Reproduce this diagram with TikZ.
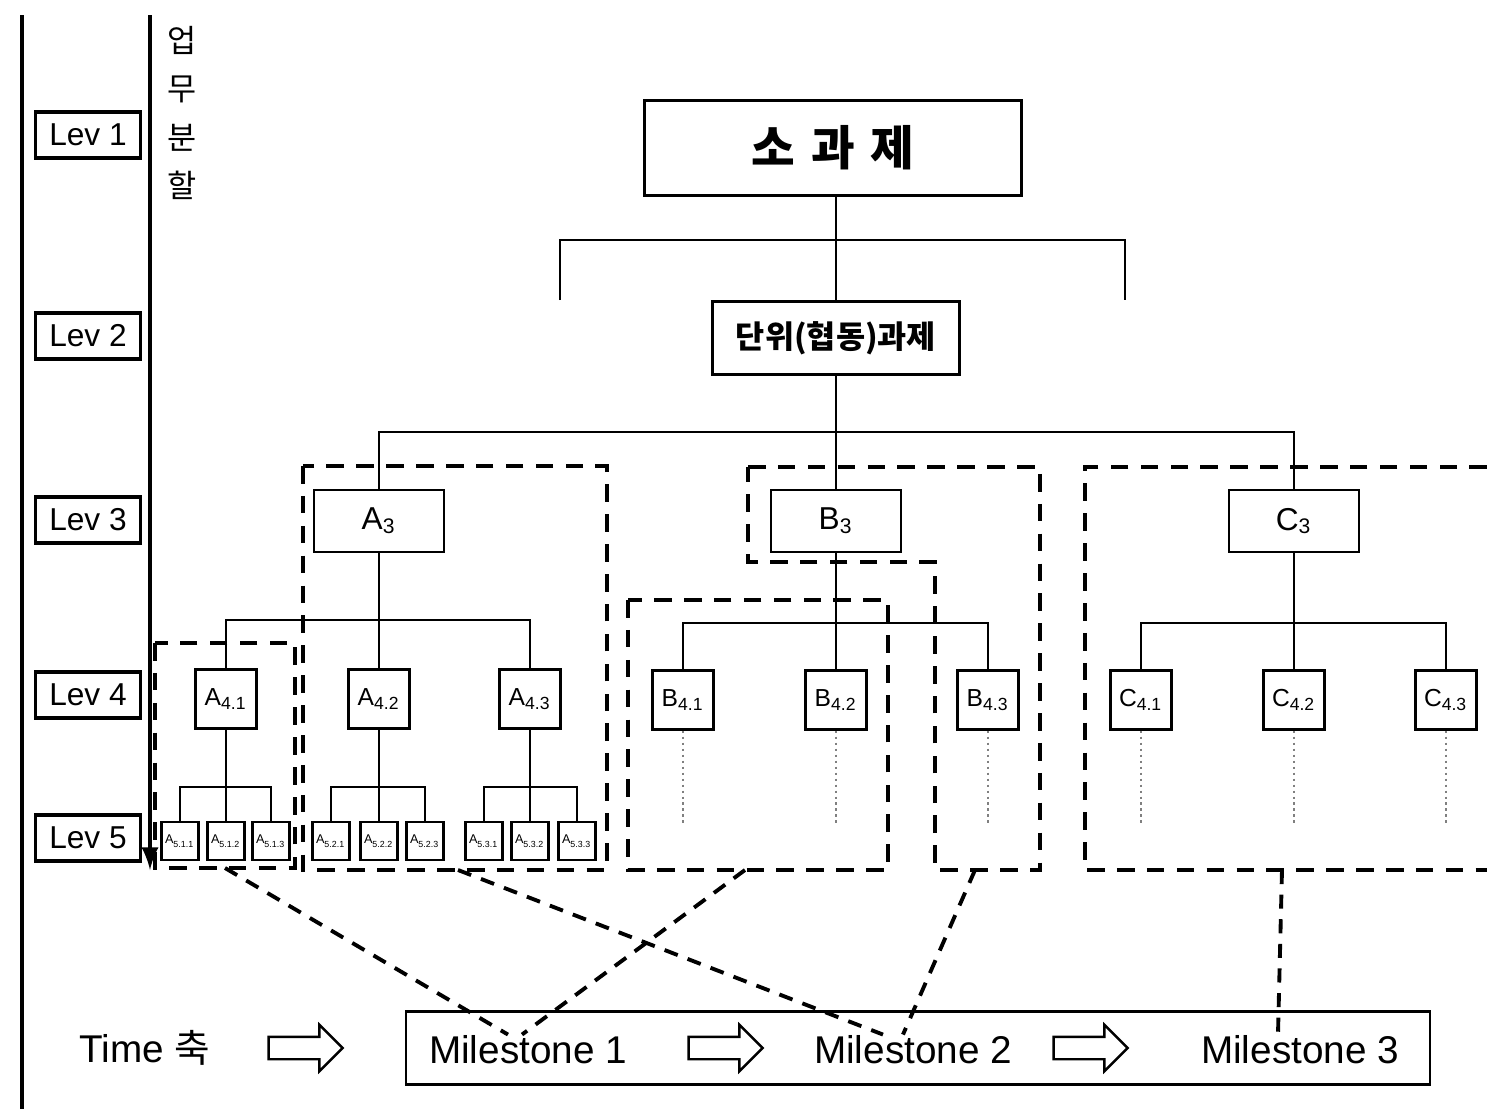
\documentclass[tikz,border=0pt]{standalone}
\usepackage{fontspec}
\setmainfont{Liberation Sans}
\newfontfamily\kor{Noto Sans CJK KR}
\usetikzlibrary{shapes.arrows}

\begin{document}
\begin{tikzpicture}[x=0.01cm,y=-0.01cm,line width=0.7pt]
    \tikzstyle{lev box}=[draw,line width=1pt,minimum width=1.05cm,minimum height=0.46cm,inner sep=0pt,font=\fontsize{9}{10}\selectfont]
    \tikzstyle{task}=[draw,inner sep=0pt]
    \tikzstyle{l3 box}=[task,minimum width=1.3cm,minimum height=0.62cm,font=\small]
    \tikzstyle{l4 box}=[task,minimum width=0.61cm,minimum height=0.59cm,font=\scriptsize]
    \tikzstyle{l5 box}=[task,minimum width=0.37cm,minimum height=0.38cm,font=\fontsize{3.6}{4}\selectfont]
    \tikzstyle{group}=[line width=1.3pt,dash pattern=on 5pt off 3.5pt]
    \tikzstyle{link}=[line width=1.1pt,dash pattern=on 4pt off 3pt]
    \tikzstyle{tail}=[gray,densely dotted]
    \tikzstyle{hollow arrow}=[single arrow,draw,minimum height=0.74cm,inner sep=0.1cm,single arrow head extend=0.12cm]
    \tikzstyle{mile}=[inner sep=0pt,font=\fontsize{11}{13}\selectfont]
    \useasboundingbox (0,0) rectangle (1487,1109);

    % axes on the left
    \draw[line width=1.2pt] (22,15) -- (22,1109);
    \draw[line width=1.2pt,-latex] (150,15) -- (150,870);
    \node[font=\kor\fontsize{9}{13.7}\selectfont,align=center] (split) at (182,113) {업\\무\\분\\할};

    \node[lev box] (lev1) at (88,135) {Lev 1};
    \node[lev box] (lev2) at (88,336) {Lev 2};
    \node[lev box] (lev3) at (88,520) {Lev 3};
    \node[lev box] (lev4) at (88,695) {Lev 4};
    \node[lev box] (lev5) at (88,838) {Lev 5};

    % levels 1 and 2
    \node[task,minimum width=3.77cm,minimum height=0.95cm,font=\kor\bfseries\fontsize{13.5}{16}\selectfont] (top) at (833,148) {소\,\,과\,\,제};
    \node[task,minimum width=2.47cm,minimum height=0.73cm,font=\kor\bfseries\fontsize{9}{11}\selectfont] (unit) at (836,338) {단위(협동)과제};
    \coordinate (b1l) at (560,300);
    \coordinate (b1r) at (1125,300);
    \draw (top.south -| unit) -- (unit);
    \draw (b1l) -- ++(0,-60) -| (b1r);

    % level 3
    \node[l3 box] (A3) at (379,521) {A\textsubscript{3}};
    \node[l3 box] (B3) at (836,521) {B\textsubscript{3}};
    \node[l3 box] (C3) at (1294,521) {C\textsubscript{3}};
    \coordinate (bus2) at (836,432);
    \draw (A3) |- (bus2) -| (C3);
    \draw (unit) -- (B3);

    % level 4
    \node[l4 box] (A41) at (226,699) {A\textsubscript{4.1}};
    \node[l4 box] (A42) at (379,699) {A\textsubscript{4.2}};
    \node[l4 box] (A43) at (530,699) {A\textsubscript{4.3}};
    \node[l4 box] (B41) at (683,700) {B\textsubscript{4.1}};
    \node[l4 box] (B42) at (836,700) {B\textsubscript{4.2}};
    \node[l4 box] (B43) at (988,700) {B\textsubscript{4.3}};
    \node[l4 box] (C41) at (1141,700) {C\textsubscript{4.1}};
    \node[l4 box] (C42) at (1294,700) {C\textsubscript{4.2}};
    \node[l4 box] (C43) at (1446,700) {C\textsubscript{4.3}};
    \coordinate (abus) at (379,620);
    \coordinate (bbus) at (836,623);
    \coordinate (cbus) at (1294,623);
    \draw (A41) |- (abus) -| (A43);  \draw (A3) -- (A42);
    \draw (B41) |- (bbus) -| (B43);  \draw (B3) -- (B42);
    \draw (C41) |- (cbus) -| (C43);  \draw (C3) -- (C42);
    \foreach \n in {B41,B42,B43,C41,C42,C43}
      \draw[tail] (\n.south) -- ++(0,94);

    % level 5
    \foreach \g/\p/\xa/\xb/\xc in {1/A41/180/226/271, 2/A42/331/379/425, 3/A43/484/530/577} {
      \node[l5 box] (a\g1) at (\xa,841) {A\textsubscript{5.\g.1}};
      \node[l5 box] (a\g2) at (\xb,841) {A\textsubscript{5.\g.2}};
      \node[l5 box] (a\g3) at (\xc,841) {A\textsubscript{5.\g.3}};
      \coordinate (a5bus\g) at (\xb,787);
      \draw (a\g1) |- (a5bus\g) -| (a\g3);
      \draw (\p) -- (a\g2);
    }

    % dashed groups
    \draw[group] (155,643) rectangle (295,868);
    \draw[group] (303,466) rectangle (607,870);
    \draw[group] (748,467) -- (1040,467) -- (1040,870) -- (935,870) -- (935,562) -- (748,562) -- cycle;
    \draw[group] (628,600) rectangle (888,870);
    \draw[group] (1487,467) -- (1085,467) -- (1085,870) -- (1487,870);
    \coordinate (ga1) at (225,868);
    \coordinate (ga2) at (458,870);
    \coordinate (gb1) at (745,870);
    \coordinate (gb3) at (975,870);
    \coordinate (gc) at (1282,870);

    % time axis
    \node[font=\fontsize{11}{13}\selectfont] (time) at (145,1048) {Time {\kor 축}};
    \node[draw,minimum width=10.23cm,minimum height=0.73cm] (ms) at (918,1048) {};
    \node[mile] (m1) at (528,1050) {Milestone 1};
    \node[mile] (m2) at (913,1050) {Milestone 2};
    \node[mile] (m3) at (1300,1050) {Milestone 3};
    \node[hollow arrow] (ar0) at (300,1048) {};
    \node[hollow arrow] (ar1) at (720,1048) {};
    \node[hollow arrow] (ar2) at (1085,1048) {};

    \path (ga1) edge[link] ([xshift=-0.2cm]m1.north);
    \path (gb1) edge[link] ([xshift=-0.06cm]m1.north);
    \path (ga2) edge[link] ([xshift=-0.3cm]m2.north);
    \path (gb3) edge[link] ([xshift=-0.1cm]m2.north);
    \path (gc) edge[link] ([xshift=-0.22cm]m3.north);
\end{tikzpicture}
\end{document}
